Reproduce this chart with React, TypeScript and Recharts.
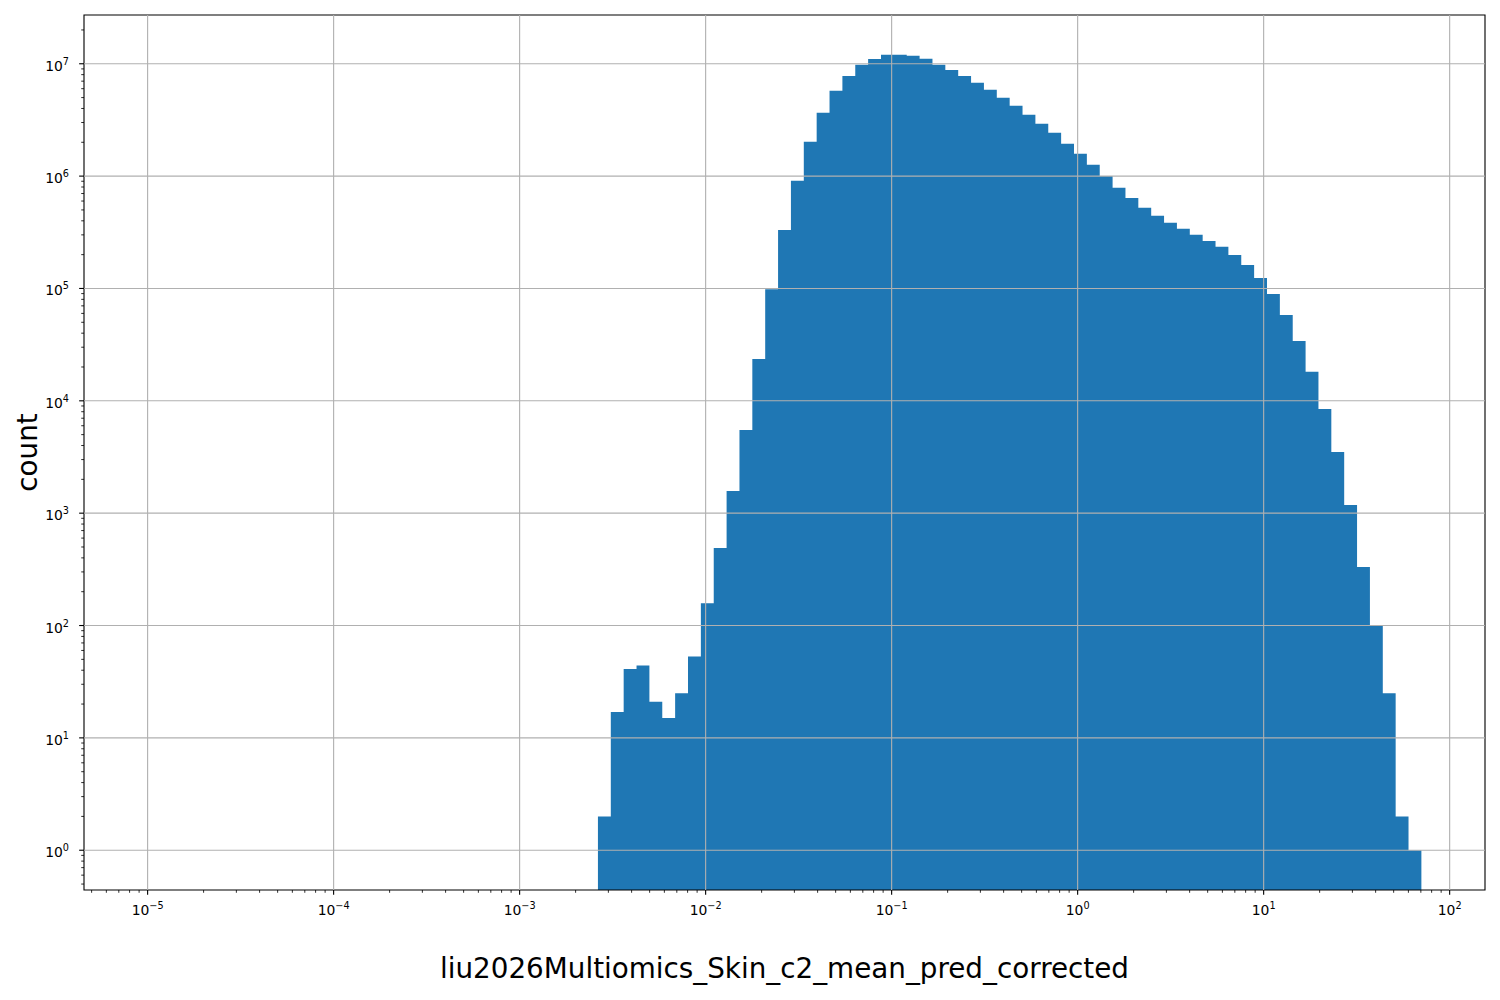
import React from 'react';
import { ComposedChart, Area, XAxis, YAxis, ReferenceLine, ReferenceArea, Label } from 'recharts';

// Histogram definition: 99 log-spaced bins between 10^-5 and 10^1.848
const LOG_EDGE_MIN = -5;
const LOG_EDGE_MAX = 1.848;
const N_BINS = 99;
const FIRST_NONZERO_BIN = 35;

// Counts of bins 35..98
const counts = [
  2, 17, 41, 44, 21, 15, 25, 53, 158, 489,
  1574, 5500, 23600, 98500, 332000, 908000, 2020000, 3660000, 5750000, 7800000,
  9800000, 11000000, 12000000, 12000000, 11800000, 11100000, 9800000, 8800000, 7800000, 6770000,
  5860000, 4980000, 4220000, 3510000, 2920000, 2430000, 1940000, 1580000, 1260000, 1000000,
  787000, 640000, 522000, 443000, 384000, 340000, 300000, 265000, 235000, 199000,
  162000, 124000, 89400, 58100, 34100, 18100, 8460, 3500, 1182, 331,
  99, 25, 2, 1,
];

const X_MIN = Math.pow(10, -5.342);
const X_MAX = Math.pow(10, 2.19);
const Y_MIN = Math.pow(10, -0.354);
const Y_MAX = Math.pow(10, 7.434);

const xMajorTicks = [1e-5, 1e-4, 1e-3, 1e-2, 1e-1, 1, 10, 100];
const yMajorTicks = [1, 10, 100, 1e3, 1e4, 1e5, 1e6, 1e7];

const xLabel = 'liu2026Multiomics_Skin_c2_mean_pred_corrected';
const yLabel = 'count';

const BAR_COLOR = '#1f77b4';
const GRID_COLOR = '#b0b0b0';
const FONT = 'DejaVu Sans';

const minorTicks = (lo: number, hi: number) => {
  const out: number[] = [];
  for (let k = -7; k <= 8; k++) {
    for (let m = 2; m <= 9; m++) {
      const v = m * Math.pow(10, k);
      if (v >= lo && v <= hi) out.push(v);
    }
  }
  return out;
};

const xTicks = [...xMajorTicks, ...minorTicks(X_MIN, X_MAX)].sort((a, b) => a - b);
const yTicks = [...yMajorTicks, ...minorTicks(Y_MIN, Y_MAX)].sort((a, b) => a - b);

const binEdge = (i: number) => Math.pow(10, LOG_EDGE_MIN + ((LOG_EDGE_MAX - LOG_EDGE_MIN) * i) / N_BINS);
const histData = counts.map((c, j) => ({ x: binEdge(FIRST_NONZERO_BIN + j), count: c }));
histData.push({ x: binEdge(FIRST_NONZERO_BIN + counts.length), count: counts[counts.length - 1] });

const isMajor = (v: number) => {
  const lg = Math.log10(v);
  return Math.abs(lg - Math.round(lg)) < 1e-6;
};
const expText = (v: number) => {
  const e = Math.round(Math.log10(v));
  return e < 0 ? '\u2212' + Math.abs(e) : String(e);
};

const XTick = (props: any) => {
  const { x, y, payload } = props;
  const v = payload.value;
  const major = isMajor(v);
  return (
    <g>
      <line x1={x} x2={x} y1={y} y2={y + (major ? 4.86 : 2.78)} stroke="#000" strokeWidth={major ? 1.11 : 0.83} />
      {major && (
        <text x={x} y={y + 25} textAnchor="middle" fontFamily={FONT} fontSize={13.9} fill="#000">
          <tspan>10</tspan>
          <tspan dy={-6} fontSize={9.7}>{expText(v)}</tspan>
        </text>
      )}
    </g>
  );
};

const YTick = (props: any) => {
  const { x, y, payload } = props;
  const v = payload.value;
  const major = isMajor(v);
  return (
    <g>
      <line x1={x - (major ? 4.86 : 2.78)} x2={x} y1={y} y2={y} stroke="#000" strokeWidth={major ? 1.11 : 0.83} />
      {major && (
        <text x={x - 15} y={y + 7} textAnchor="end" fontFamily={FONT} fontSize={13.9} fill="#000">
          <tspan>10</tspan>
          <tspan dy={-6} fontSize={9.7}>{expText(v)}</tspan>
        </text>
      )}
    </g>
  );
};

export default function App() {
  return (
    <div style={{ position: 'absolute', left: 0, top: 0, width: 1500, height: 1000, background: '#fff' }}>
      <ComposedChart
        width={1500}
        height={1000}
        data={histData}
        margin={{ top: 15, right: 15, bottom: 70, left: 24 }}
      >
        <XAxis
          dataKey="x"
          type="number"
          scale="log"
          domain={[X_MIN, X_MAX]}
          allowDataOverflow
          ticks={xTicks}
          interval={0}
          tickSize={0}
          tickMargin={0}
          axisLine={false}
          tickLine={false}
          height={40}
          tick={XTick}
        >
          <Label
            content={(p: any) => {
              const vb = p.viewBox || { x: 84, y: 890, width: 1401, height: 40 };
              return (
                <text x={vb.x + vb.width / 2} y={vb.y + 88} textAnchor="middle" fontFamily={FONT} fontSize={27.8} fill="#000">
                  {xLabel}
                </text>
              );
            }}
          />
        </XAxis>
        <YAxis
          type="number"
          scale="log"
          domain={[Y_MIN, Y_MAX]}
          allowDataOverflow
          ticks={yTicks}
          interval={0}
          tickSize={0}
          tickMargin={0}
          axisLine={false}
          tickLine={false}
          width={60}
          tick={YTick}
        >
          <Label
            content={(p: any) => {
              const vb = p.viewBox || { x: 24, y: 15, width: 60, height: 875 };
              const cx = vb.x + 13;
              const cy = vb.y + vb.height / 2;
              return (
                <text x={cx} y={cy} transform={`rotate(-90 ${cx} ${cy})`} textAnchor="middle" fontFamily={FONT} fontSize={27.8} fill="#000">
                  {yLabel}
                </text>
              );
            }}
          />
        </YAxis>
        <Area
          dataKey="count"
          type="stepAfter"
          fill={BAR_COLOR}
          fillOpacity={1}
          stroke="none"
          baseValue={Y_MIN}
          dot={false}
          activeDot={false}
          isAnimationActive={false}
        />
        {xMajorTicks.map((t) => (
          <ReferenceLine key={'gx' + t} x={t} stroke={GRID_COLOR} strokeWidth={1.11} />
        ))}
        {yMajorTicks.map((t) => (
          <ReferenceLine key={'gy' + t} y={t} stroke={GRID_COLOR} strokeWidth={1.11} />
        ))}
        <ReferenceArea x1={X_MIN} x2={X_MAX} y1={Y_MIN} y2={Y_MAX} fill="none" stroke="#000" strokeWidth={1.11} ifOverflow="visible" />
      </ComposedChart>
    </div>
  );
}
